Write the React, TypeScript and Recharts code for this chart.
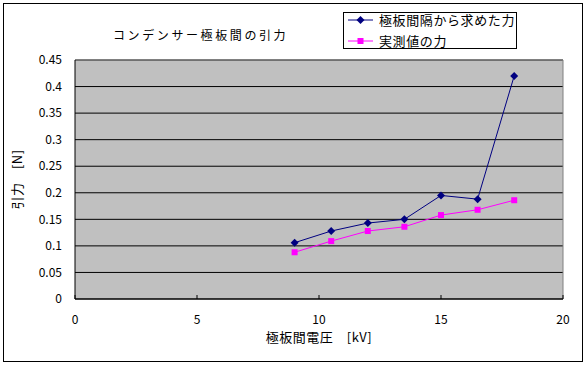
import { CartesianGrid, Line, LineChart, ReferenceLine, XAxis, YAxis } from 'recharts'

const voltage = [9, 10.5, 12, 13.5, 15, 16.5, 18]
const calcForce = [0.106, 0.128, 0.143, 0.15, 0.195, 0.188, 0.42]
const measuredForce = [0.088, 0.109, 0.128, 0.136, 0.158, 0.168, 0.186]

const xTicks = [0, 5, 10, 15, 20]
const yTicks = [0, 0.05, 0.1, 0.15, 0.2, 0.25, 0.3, 0.35, 0.4, 0.45]

const seriesNames = ['極板間隔から求めた力', '実測値の力']
const title = 'コンデンサー極板間の引力'

const data = voltage.map((v, i) => ({
  v,
  calc: calcForce[i],
  measured: measuredForce[i],
}))

const font = "'Noto Sans CJK JP', sans-serif"
const navy = '#000080'
const pink = '#FF00FF'

function Diamond(props: any) {
  const { cx, cy } = props
  if (cx == null || cy == null) return null
  return <path d={`M${cx} ${cy - 4}L${cx + 4} ${cy}L${cx} ${cy + 4}L${cx - 4} ${cy}Z`} fill={navy} />
}

function Square(props: any) {
  const { cx, cy } = props
  if (cx == null || cy == null) return null
  return <rect x={cx - 3} y={cy - 3} width={6} height={6} fill={pink} />
}

export default function App() {
  return (
    <div style={{ position: 'absolute', left: 0, top: 0, width: 586, height: 365, background: '#fff', fontFamily: font }}>
      <div
        style={{
          position: 'absolute',
          left: 3,
          top: 3,
          width: 580,
          height: 359,
          border: '1px solid #000',
          boxSizing: 'border-box',
        }}
      />
      <div
        style={{
          position: 'absolute',
          left: 113,
          top: 27,
          fontSize: 12,
          lineHeight: '16px',
          letterSpacing: 2.6,
          whiteSpace: 'nowrap',
        }}
      >
        {title}
      </div>

      <LineChart
        width={586}
        height={365}
        data={data}
        margin={{ top: 60, right: 23, bottom: 36, left: 15 }}
        style={{ position: 'absolute', left: 0, top: 0 }}
      >
        <CartesianGrid vertical={false} fill="#C0C0C0" fillOpacity={1} stroke="#000" strokeOpacity={1} />
        <XAxis
          dataKey="v"
          type="number"
          domain={[0, 20]}
          ticks={xTicks}
          height={30}
          stroke="#000"
          tickSize={-4}
          tickMargin={20}
          tick={{ fill: '#000', fontSize: 12, fontFamily: font }}
          label={{
            value: '極板間電圧　[kV]',
            position: 'bottom',
            offset: 4,
            style: { fill: '#000', fontSize: 13, fontFamily: font, letterSpacing: 0.5 },
          }}
        />
        <YAxis
          type="number"
          domain={[0, 0.45]}
          ticks={yTicks}
          width={60}
          stroke="#000"
          tickLine={false}
          tickSize={4}
          tickMargin={9}
          tick={{ fill: '#000', fontSize: 12, fontFamily: font }}
          label={{
            value: '引力　[N]',
            angle: -90,
            position: 'insideLeft',
            offset: 2,
            style: { textAnchor: 'middle', fill: '#000', fontSize: 13, fontFamily: font, letterSpacing: 0.5 },
          }}
        />
        <ReferenceLine y={0.45} stroke="#808080" />
        <ReferenceLine x={20} stroke="#808080" />
        <Line
          dataKey="calc"
          type="linear"
          stroke={navy}
          strokeWidth={1}
          dot={<Diamond />}
          activeDot={false}
          isAnimationActive={false}
        />
        <Line
          dataKey="measured"
          type="linear"
          stroke={pink}
          strokeWidth={1}
          dot={<Square />}
          activeDot={false}
          isAnimationActive={false}
        />
      </LineChart>

      <div
        style={{
          position: 'absolute',
          left: 343,
          top: 12,
          width: 174,
          height: 37,
          border: '1px solid #000',
          boxSizing: 'border-box',
          background: '#fff',
          fontSize: 13,
          letterSpacing: 0.6,
        }}
      >
        {seriesNames.map((name, i) => (
          <div key={name} style={{ position: 'absolute', left: 4, top: i === 0 ? -1 : 20, height: 16, display: 'flex', alignItems: 'center', whiteSpace: 'nowrap' }}>
            <svg width={26} height={16} style={{ display: 'block' }}>
              <line x1={0} y1={8} x2={25} y2={8} stroke={i === 0 ? navy : pink} strokeWidth={1} />
              {i === 0 ? (
                <path d="M12.5 4L16.5 8L12.5 12L8.5 8Z" fill={navy} />
              ) : (
                <rect x={9.5} y={5} width={6} height={6} fill={pink} />
              )}
            </svg>
            <span style={{ marginLeft: 5, lineHeight: '16px' }}>{name}</span>
          </div>
        ))}
      </div>
    </div>
  )
}
